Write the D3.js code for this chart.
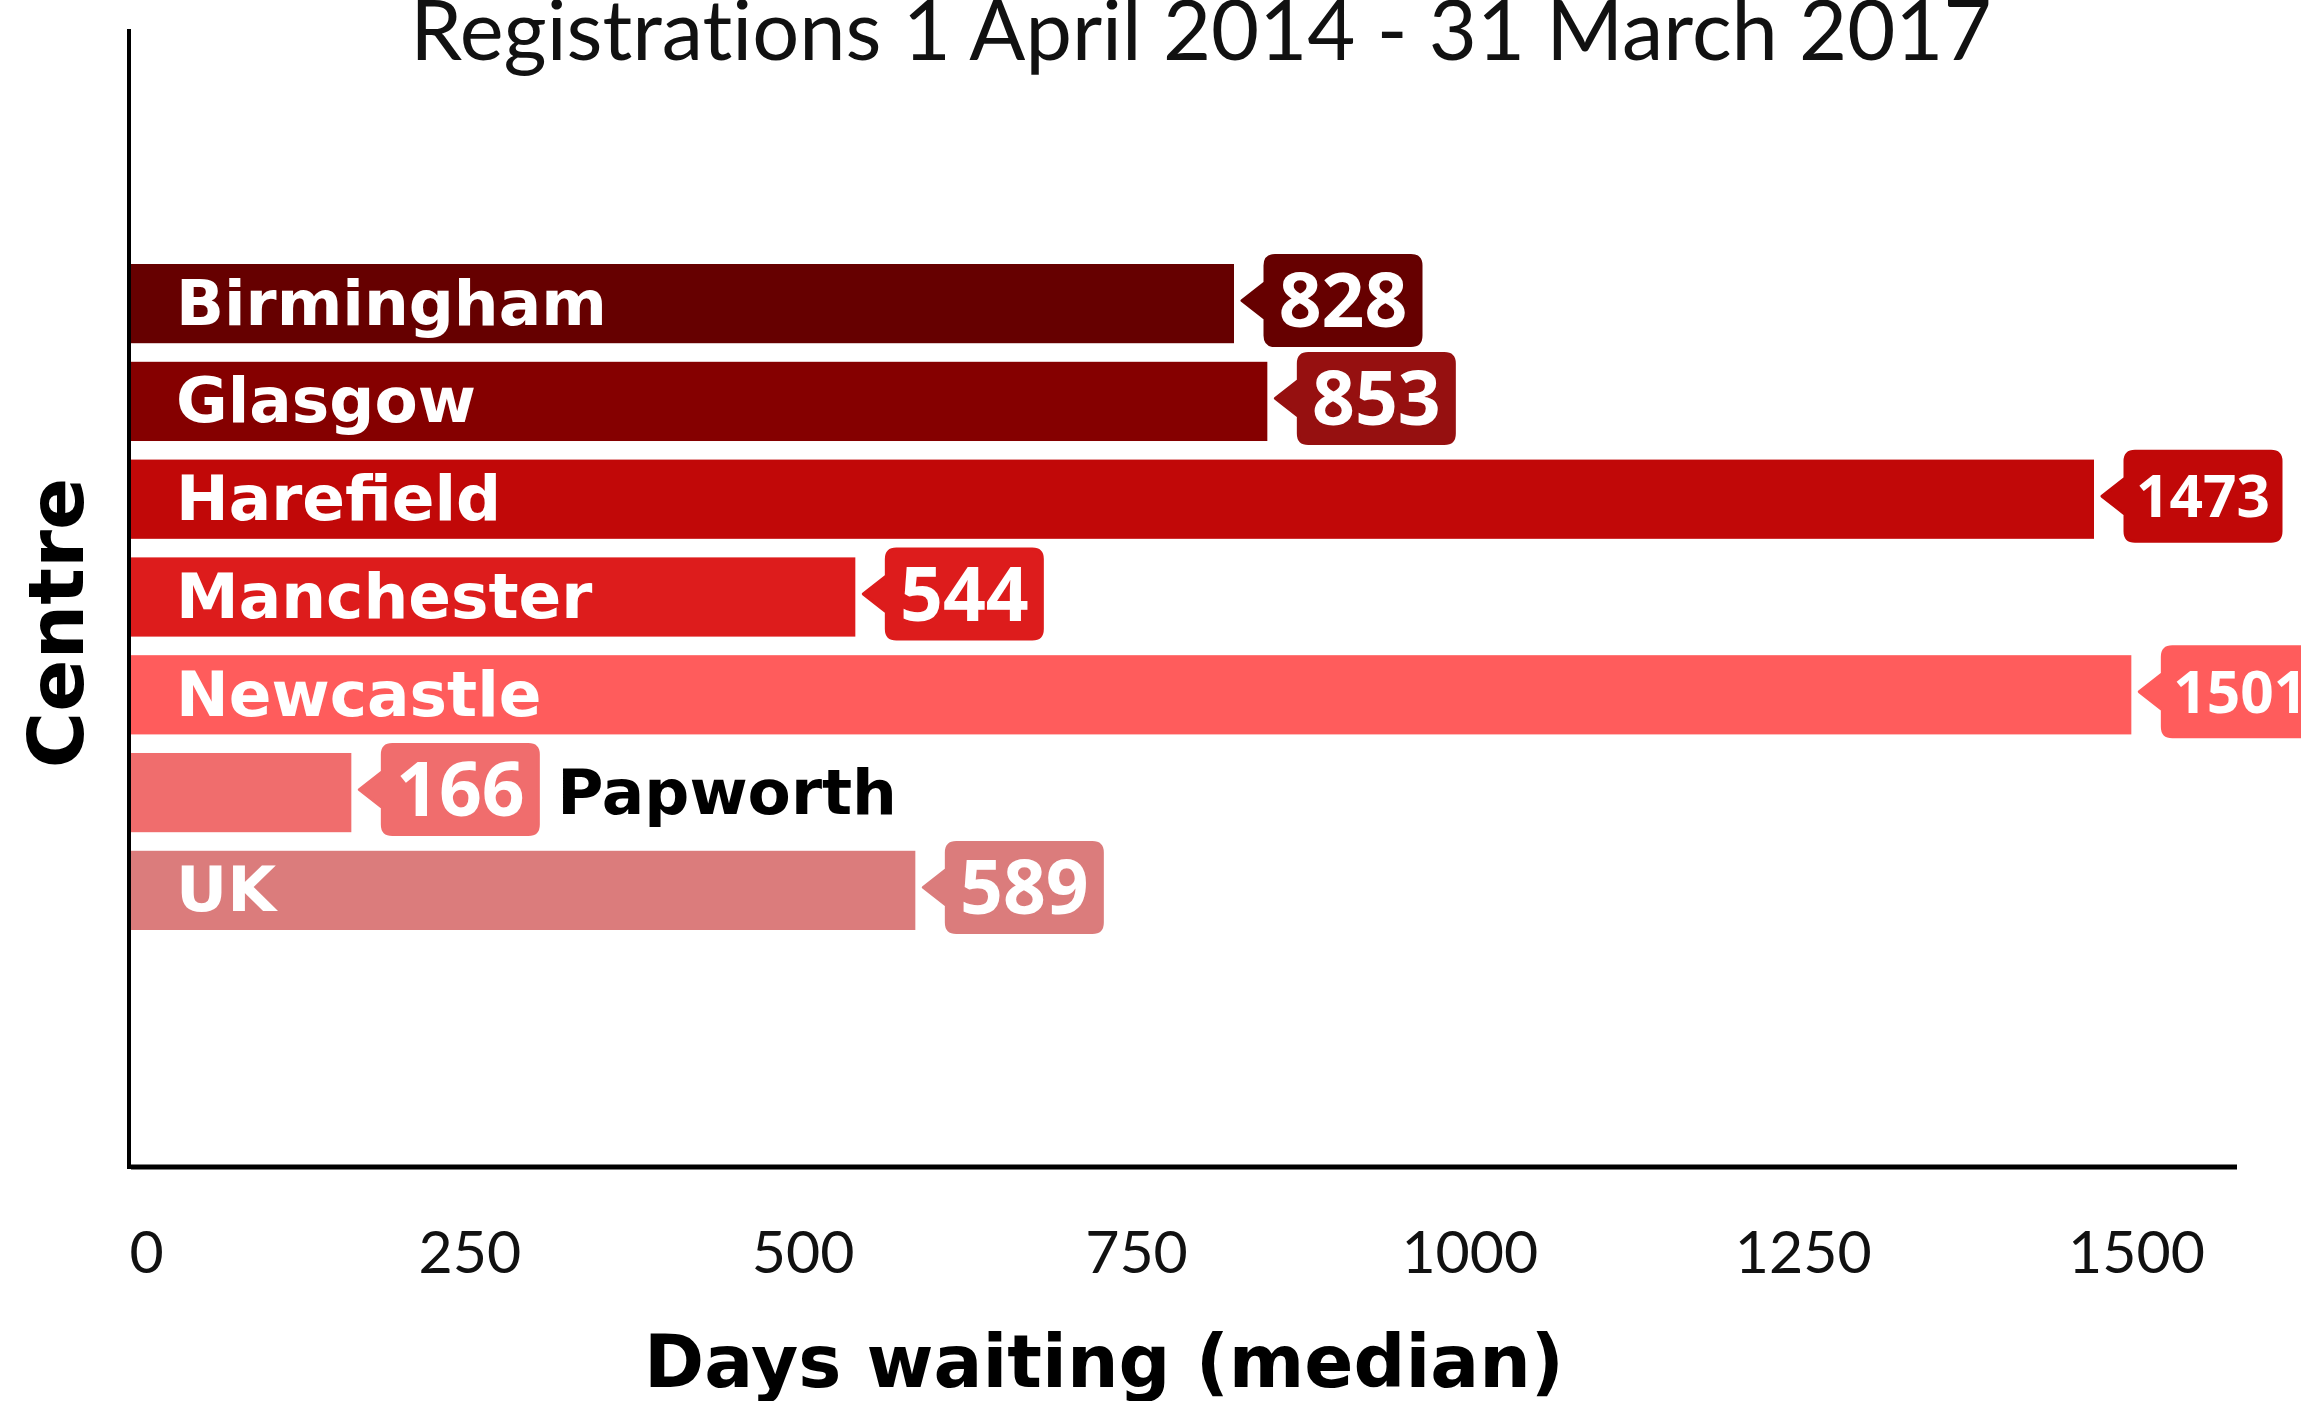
<!DOCTYPE html>
<html>
<head>
<meta charset="utf-8">
<script src="https://cdn.jsdelivr.net/npm/d3@7"></script>
<style>
  body { margin: 0; background: #fff; }
  svg { display: block; }
</style>
</head>
<body>
<svg id="chart"></svg>
<script>
// data
const centres = ["Birmingham", "Glasgow", "Harefield", "Manchester", "Newcastle", "Papworth", "UK"];
const daysWaiting = [828, 853, 1473, 544, 1501, 166, 589];
const barColors = ["#660000", "#850000", "#c10808", "#dd1c1c", "#ff5c5c", "#f06d6d", "#db7c7c"];
const boxColors = ["#660000", "#961010", "#c10808", "#dd1c1c", "#ff5c5c", "#f06d6d", "#db7c7c"];
const xTicks = [0, 250, 500, 750, 1000, 1250, 1500];

const width = 2301, height = 1401;
const boldFont = "'DejaVu Sans', sans-serif";
const numFont = "'Open Sans', sans-serif";

const svg = d3.select("#chart")
    .attr("width", width)
    .attr("height", height)
    .attr("viewBox", [0, 0, width, height]);

const x = d3.scaleLinear([0, 1500], [130, 2130]);
const y = d3.scaleBand(centres, [264, 930]).paddingInner(0.19);

const data = centres.map((c, i) => ({ centre: c, value: daysWaiting[i], color: barColors[i], box: boxColors[i] }));

// title (its top is cut by the page edge, as in the original)
svg.append("text")
    .attr("x", 1201)
    .attr("y", 60)
    .attr("text-anchor", "middle")
    .attr("font-family", "Lato, sans-serif")
    .attr("font-size", 83)
    .style("font-variant-ligatures", "none")
    .attr("fill", "#111")
    .text("Registrations 1 April 2014 - 31 March 2017");

// bars
svg.append("g")
    .selectAll("rect")
    .data(data)
    .join("rect")
    .attr("x", x(0))
    .attr("y", d => y(d.centre))
    .attr("width", d => x(d.value) - x(0))
    .attr("height", y.bandwidth())
    .attr("fill", d => d.color);

// callouts
const boxW = 156, boxH = 90, notch = 18;
const callout = svg.append("g")
    .selectAll("g")
    .data(data)
    .join("g");

callout.append("path")
    .attr("fill", d => d.box)
    .attr("stroke", d => d.box)
    .attr("stroke-width", 3)
    .attr("stroke-linejoin", "round")
    .attr("d", d => {
        const tip = x(d.value) + 8;
        const left = x(d.value) + 31;
        const cy = y(d.centre) + y.bandwidth() / 2 - 3;
        const top = cy - boxH / 2, bot = cy + boxH / 2, right = left + boxW, r = 10;
        return `M${tip},${cy} L${left},${cy - notch} L${left},${top + r} Q${left},${top} ${left + r},${top}` +
            ` L${right - r},${top} Q${right},${top} ${right},${top + r} L${right},${bot - r} Q${right},${bot} ${right - r},${bot}` +
            ` L${left + r},${bot} Q${left},${bot} ${left},${bot - r} L${left},${cy + notch} Z`;
    });

callout.append("text")
    .attr("text-anchor", "middle")
    .attr("font-family", numFont)
    .attr("font-weight", "bold")
    .attr("font-size", 100)
    .attr("fill", "#fff")
    .text(d => d.value)
    .each(function (d) {
        const w = this.getComputedTextLength();
        const size = Math.min(75, 100 * 134 / w);
        const cy = y(d.centre) + y.bandwidth() / 2 - 3;
        d3.select(this)
            .attr("font-size", size)
            .attr("x", x(d.value) + 31 + boxW / 2)
            .attr("y", cy + size * 0.714 / 2);
    });

// centre labels, inside the bar or after the callout when the bar is too short
svg.append("g")
    .selectAll("text")
    .data(data)
    .join("text")
    .attr("font-family", boldFont)
    .attr("font-weight", "bold")
    .attr("font-size", 63)
    .attr("y", d => y(d.centre) + y.bandwidth() / 2 + 21)
    .text(d => d.centre)
    .each(function (d) {
        const w = this.getComputedTextLength();
        const inside = w + 70 < x(d.value) - x(0);
        d3.select(this)
            .attr("x", inside ? x(0) + 46 : x(d.value) + 31 + boxW + 19)
            .attr("fill", inside ? "#fff" : "#000");
    });

// axes
svg.append("line")
    .attr("x1", 129).attr("x2", 129)
    .attr("y1", 29).attr("y2", 1169)
    .attr("stroke", "#000")
    .attr("stroke-width", 4);

svg.append("line")
    .attr("x1", 131).attr("x2", 2237)
    .attr("y1", 1167).attr("y2", 1167)
    .attr("stroke", "#000")
    .attr("stroke-width", 5);

const xAxis = svg.append("g")
    .attr("transform", "translate(0,1167)")
    .call(d3.axisBottom(x).tickValues(xTicks).tickFormat(d3.format("d")).tickSize(0).tickPadding(0));

xAxis.select(".domain").remove();
xAxis.selectAll("text")
    .attr("x", d => d === 0 ? 16 : 6)
    .attr("y", 106)
    .attr("dy", null)
    .attr("font-family", "Lato, sans-serif")
    .attr("font-size", 59)
    .attr("fill", "#111");

svg.append("text")
    .attr("x", 1104)
    .attr("y", 1387)
    .attr("text-anchor", "middle")
    .attr("font-family", boldFont)
    .attr("font-weight", "bold")
    .attr("font-size", 72.5)
    .attr("fill", "#000")
    .text("Days waiting (median)");

svg.append("text")
    .attr("transform", "translate(83,623) rotate(-90)")
    .attr("text-anchor", "middle")
    .attr("font-family", boldFont)
    .attr("font-weight", "bold")
    .attr("font-size", 77)
    .attr("fill", "#000")
    .text("Centre");
</script>
</body>
</html>
